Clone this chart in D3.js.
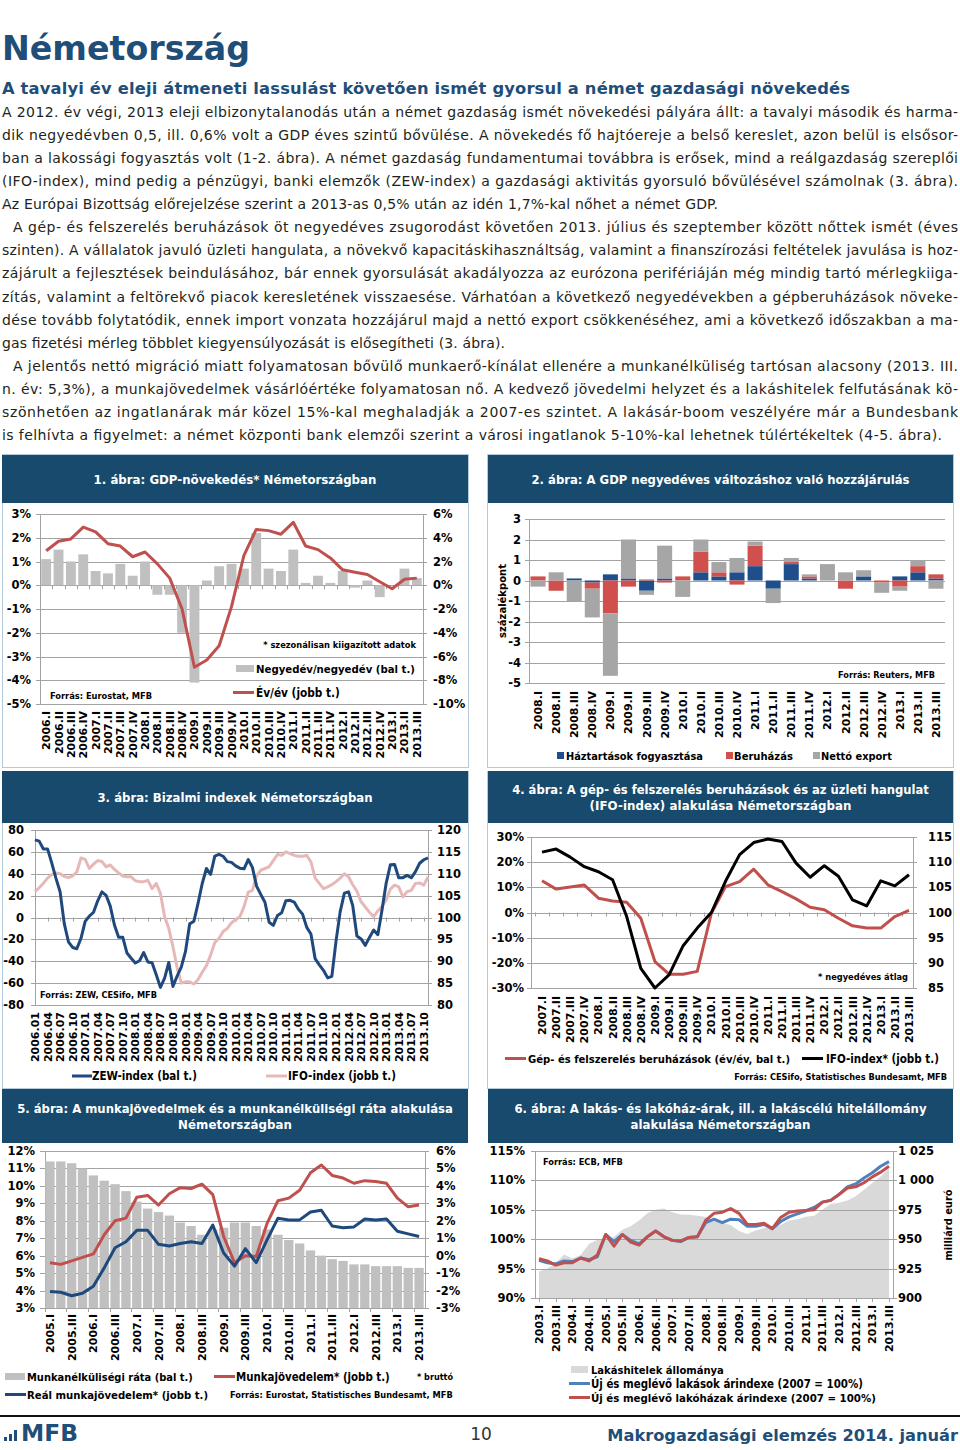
<!DOCTYPE html>
<html><head><meta charset="utf-8">
<script src="https://cdn.jsdelivr.net/npm/d3@7"></script>
<style>body{margin:0;background:#fff}svg{display:block}</style>
</head><body>
<svg id="page" width="960" height="1450"></svg>
<script>
// ================= DATA =================
const bodyLines = [
"A 2012. év végi, 2013 eleji elbizonytalanodás után a német gazdaság ismét növekedési pályára állt: a tavalyi második és harma-",
"dik negyedévben 0,5, ill. 0,6% volt a GDP éves szintű bővülése. A növekedés fő hajtóereje a belső kereslet, azon belül is elsősor-",
"ban a lakossági fogyasztás volt (1-2. ábra). A német gazdaság fundamentumai továbbra is erősek, mind a reálgazdaság szereplői",
"(IFO-index), mind pedig a pénzügyi, banki elemzők (ZEW-index) a gazdasági aktivitás gyorsuló bővülésével számolnak (3. ábra).",
"Az Európai Bizottság előrejelzése szerint a 2013-as 0,5% után az idén 1,7%-kal nőhet a német GDP.",
"A gép- és felszerelés beruházások öt negyedéves zsugorodást követően 2013. július és szeptember között nőttek ismét (éves",
"szinten). A vállalatok javuló üzleti hangulata, a növekvő kapacitáskihasználtság, valamint a finanszírozási feltételek javulása is hoz-",
"zájárult a fejlesztések beindulásához, bár ennek gyorsulását akadályozza az eurózona perifériáján még mindig tartó mérlegkiiga-",
"zítás, valamint a feltörekvő piacok keresletének visszaesése. Várhatóan a következő negyedévekben a gépberuházások növeke-",
"dése tovább folytatódik, ennek import vonzata hozzájárul majd a nettó export csökkenéséhez, ami a következő időszakban a ma-",
"gas fizetési mérleg többlet kiegyensúlyozását is elősegítheti (3. ábra).",
"A jelentős nettó migráció miatt folyamatosan bővülő munkaerő-kínálat ellenére a munkanélküliség tartósan alacsony (2013. III.",
"n. év: 5,3%), a munkajövedelmek vásárlóértéke folyamatosan nő. A kedvező jövedelmi helyzet és a lakáshitelek felfutásának kö-",
"szönhetően az ingatlanárak már közel 15%-kal meghaladják a 2007-es szintet. A lakásár-boom veszélyére már a Bundesbank",
"is felhívta a figyelmet: a német központi bank elemzői szerint a városi ingatlanok 5-10%-kal lehetnek túlértékeltek (4-5. ábra)."
];

// Chart 1
const gdpQuarters = ["2006.I","2006.II","2006.III","2006.IV","2007.I","2007.II","2007.III","2007.IV","2008.I","2008.II","2008.III","2008.IV","2009.I","2009.II","2009.III","2009.IV","2010.I","2010.II","2010.III","2010.IV","2011.I","2011.II","2011.III","2011.IV","2012.I","2012.II","2012.III","2012.IV","2013.I","2013.II","2013.III"];
const gdpQoQ = [1.1,1.5,1.0,1.3,0.6,0.5,0.9,0.4,1.0,-0.4,-0.4,-2.0,-4.1,0.2,0.8,0.9,0.7,2.2,0.7,0.6,1.5,0.1,0.4,0.1,0.6,-0.1,0.2,-0.5,0.0,0.7,0.3];
const gdpYoY = [2.9,3.7,3.9,4.9,4.5,3.5,3.3,2.4,2.8,1.8,0.6,-2.0,-6.9,-6.3,-5.1,-1.8,2.5,4.7,4.6,4.3,5.3,3.3,3.0,2.3,1.3,1.1,0.9,0.3,-0.3,0.5,0.6];

// Chart 2
const contribQuarters = ["2008.I","2008.II","2008.III","2008.IV","2009.I","2009.II","2009.III","2009.IV","2010.I","2010.II","2010.III","2010.IV","2011.I","2011.II","2011.III","2011.IV","2012.I","2012.II","2012.III","2012.IV","2013.I","2013.II","2013.III"];
const contribHouseholds = [0.0,0.0,0.1,-0.1,0.3,0.1,-0.5,0.1,0.0,0.4,0.2,0.4,0.7,-0.4,0.8,0.1,0.0,0.0,0.2,0.0,0.2,0.4,0.1];
const contribInvestment = [0.2,-0.5,0.0,-0.3,-1.6,-0.3,0.05,-0.1,0.2,1.0,0.2,-0.2,1.0,0.0,0.1,0.1,0.0,-0.4,0.0,-0.1,-0.3,0.3,0.2];
const contribNetExport = [-0.3,0.4,-1.0,-1.4,-3.05,1.9,-0.2,1.6,-0.8,0.6,0.5,0.7,0.2,-0.7,0.2,0.1,0.8,0.4,0.3,-0.5,-0.2,0.3,-0.4];

// Chart 3 (monthly 2006.01 - 2013.11)
const zewIndex = [71.0,69.8,62.6,62.7,50.0,36.0,23.5,-5.6,-22.2,-27.4,-28.6,-19.0,
 -3.6,1.3,4.8,15.3,23.5,20.3,10.4,-6.9,-18.1,-18.1,-32.5,-37.2,
 -41.6,-39.5,-32.0,-40.7,-41.4,-52.4,-63.9,-55.5,-41.1,-63.0,-53.5,-45.2,
 -31.0,-5.8,-3.5,13.0,31.1,44.8,39.5,56.1,57.7,56.0,51.1,50.4,
 47.2,45.1,44.5,53.0,45.8,28.7,21.2,14.0,-4.3,-7.2,1.8,4.3,
 15.4,15.7,14.1,7.6,3.1,-9.0,-15.1,-37.6,-43.3,-48.3,-55.2,-53.8,
 -21.6,5.4,22.3,23.4,10.8,-16.9,-19.6,-25.5,-18.2,-11.5,-15.7,6.9,
 31.5,48.2,48.5,36.3,36.4,38.5,36.3,42.0,49.6,52.8,54.6];
const ifoIndex = [105.9,106.8,107.8,109.0,109.8,110.2,110.0,109.4,109.1,109.5,110.4,113.6,
 113.3,111.2,112.2,113.0,112.8,111.6,112.0,111.0,110.2,109.5,109.3,109.3,
 108.4,108.2,108.2,108.5,106.6,107.8,105.5,100.2,97.5,93.3,88.5,85.0,
 85.3,85.3,84.8,85.8,87.5,89.0,91.4,94.3,95.2,96.8,97.5,98.8,
 99.5,100.2,102.5,105.8,106.2,109.5,110.8,111.2,111.6,113.0,114.4,114.2,
 115.0,114.6,114.2,114.0,114.0,114.2,112.7,109.0,107.8,106.6,107.0,107.5,
 108.2,109.0,110.0,109.3,107.5,106.0,103.6,102.4,101.2,100.2,101.5,102.5,
 104.0,106.5,107.4,107.0,104.7,105.9,106.2,107.8,107.9,107.4,109.3];
const monthTickLabels = ["2006.01","2006.04","2006.07","2006.10","2007.01","2007.04","2007.07","2007.10","2008.01","2008.04","2008.07","2008.10","2009.01","2009.04","2009.07","2009.10","2010.01","2010.04","2010.07","2010.10","2011.01","2011.04","2011.07","2011.10","2012.01","2012.04","2012.07","2012.10","2013.01","2013.04","2013.07","2013.10"];

// Chart 4
const invQuarters = ["2007.I","2007.II","2007.III","2007.IV","2008.I","2008.II","2008.III","2008.IV","2009.I","2009.II","2009.III","2009.IV","2010.I","2010.II","2010.III","2010.IV","2011.I","2011.II","2011.III","2011.IV","2012.I","2012.II","2012.III","2012.IV","2013.I","2013.II","2013.III"];
const machineryInvestment = [12.6,9.3,10.1,10.9,5.7,4.6,4.1,-2.3,-19.5,-24.5,-24.5,-23.4,-0.3,10.3,12.3,17.2,11.0,8.3,5.4,2.1,1.1,-2.3,-5.3,-6.2,-6.2,-1.6,0.8];
const ifoQuarterly = [112.0,112.6,111.0,109.1,108.1,106.5,99.2,88.9,85.0,87.6,93.4,96.9,100.0,106.2,111.5,113.9,114.6,114.1,109.8,107.0,109.3,107.2,102.5,101.3,106.3,105.3,107.5];

// Chart 5
const labourQuarters = ["2005.I","2005.II","2005.III","2005.IV","2006.I","2006.II","2006.III","2006.IV","2007.I","2007.II","2007.III","2007.IV","2008.I","2008.II","2008.III","2008.IV","2009.I","2009.II","2009.III","2009.IV","2010.I","2010.II","2010.III","2010.IV","2011.I","2011.II","2011.III","2011.IV","2012.I","2012.II","2012.III","2012.IV","2013.I","2013.II","2013.III"];
const unemploymentRate = [11.4,11.4,11.3,11.0,10.6,10.3,10.1,9.7,9.1,8.7,8.5,8.3,7.9,7.7,7.2,7.5,7.6,7.9,7.9,7.7,7.5,7.2,6.9,6.7,6.3,6.0,5.8,5.7,5.5,5.5,5.4,5.4,5.4,5.3,5.3];
const nominalWages = [-0.4,-0.5,-0.3,-0.1,0.1,1.2,2.0,2.15,3.35,3.45,2.9,3.55,3.9,3.85,4.1,3.5,1.1,-0.4,0.0,-0.05,1.85,3.15,3.3,3.75,4.75,5.2,4.6,4.45,4.15,4.3,4.25,4.15,3.3,2.8,2.9];
const realWages = [-2.05,-2.1,-2.3,-2.15,-1.75,-0.7,0.45,0.8,1.45,1.45,0.65,0.55,0.7,0.8,0.7,1.75,0.15,-0.6,0.4,-0.4,0.9,2.15,2.05,2.05,2.5,2.6,1.7,1.6,1.65,2.1,2.05,2.1,1.4,1.25,1.1];

// Chart 6
const houseQuarters = ["2003.I","2003.II","2003.III","2003.IV","2004.I","2004.II","2004.III","2004.IV","2005.I","2005.II","2005.III","2005.IV","2006.I","2006.II","2006.III","2006.IV","2007.I","2007.II","2007.III","2007.IV","2008.I","2008.II","2008.III","2008.IV","2009.I","2009.II","2009.III","2009.IV","2010.I","2010.II","2010.III","2010.IV","2011.I","2011.II","2011.III","2011.IV","2012.I","2012.II","2012.III","2012.IV","2013.I","2013.II","2013.III"];
const mortgageStock = [922.6,925,929.5,937,933.5,936.5,946,949.5,950,952,958,961,966,972,975,976,973,971,970.8,970,968.8,965.7,963.7,962,957,954.5,957.5,959.5,960,962,966,967,969,970,975,980,981,983,986.5,992,997.7,1003.4,1010.4];
const flatPrices = [96.4,96.0,95.8,96.3,96.2,96.8,96.5,97.0,100.8,99.6,100.8,99.8,99.2,100.4,101.4,100.4,99.8,99.6,100.3,100.4,102.8,103.4,102.8,103.4,103.3,102.2,102.2,102.5,101.8,103.0,103.8,104.3,104.8,105.4,106.3,106.6,107.6,108.9,109.4,110.4,111.3,112.4,113.2];
const housePrices = [96.7,96.3,95.6,96.0,96.0,96.8,96.3,97.3,100.8,98.8,100.8,99.5,99.0,100.4,101.4,100.4,99.8,99.7,100.3,100.4,103.2,104.4,104.6,105.2,104.4,102.5,102.5,102.7,101.8,103.7,104.6,104.8,104.9,105.0,106.3,106.6,107.6,108.7,108.9,109.6,110.6,111.4,112.4];
const c6RightTicks = [900,925,950,975,1000,1025];
const c6RightLabels = ["900","925","950","975","1 000","1 025"];

// ================= DRAWING =================
const FONT = "'DejaVu Sans', Verdana, sans-serif";
const CFONT = "'DejaVu Sans Condensed', 'DejaVu Sans', Verdana, sans-serif";
const BLUE_TXT = "#1f4e79";
const BARCOL = "#174a6c";
const GRID = "#a3a3a3";
const RED = "#c0504d";
const NAVY = "#1f497d";
const svg = d3.select("#page");

// text helper: when a target width is given, the font size is fitted so the
// natural text width matches it (no glyph distortion).
function T(p, x, y, s, o = {}) {
  const size = o.size || 11;
  const t = p.append("text").attr("x", x).attr("y", y)
    .attr("font-family", o.font || (o.width ? CFONT : FONT))
    .attr("font-size", size)
    .attr("font-weight", o.weight || "bold")
    .attr("fill", o.color || "#000")
    .attr("text-anchor", o.anchor || "start")
    .text(s);
  if (o.rotate) t.attr("transform", `rotate(${o.rotate},${x},${y})`);
  if (o.width) {
    let nat = t.node().getComputedTextLength();
    if (nat > o.width) {
      t.attr("font-size", (size * o.width / nat).toFixed(2));
    } else if (nat < o.width) {
      const grow = Math.min(o.width / nat, o.maxGrow || 1.12);
      t.attr("font-size", (size * grow).toFixed(2));
      nat = t.node().getComputedTextLength();
      if (nat < o.width - 1) t.attr("textLength", o.width).attr("lengthAdjust", "spacing");
    }
  }
  return t;
}
function L(p, x1, y1, x2, y2, c = GRID, w = 1) {
  return p.append("line").attr("x1", x1).attr("y1", y1).attr("x2", x2).attr("y2", y2)
    .attr("stroke", c).attr("stroke-width", w);
}
const r5 = v => Math.round(v) + 0.5;
function hgrid(g, y, vals, x0, x1) { vals.forEach(v => L(g, x0, r5(y(v)), x1, r5(y(v)))); }
function vaxis(g, x, y0, y1) { L(g, r5(x), y0, r5(x), y1); }
function lineLegend(g, x0, x1, y, col) { L(g, x0, y, x1, y, col, 3); }

function titleBar(x0, x1, y0, y1, lines, widths) {
  svg.append("rect").attr("x", x0).attr("y", y0).attr("width", x1 - x0).attr("height", y1 - y0).attr("fill", BARCOL);
  const cx = (x0 + x1) / 2, cy = (y0 + y1) / 2;
  lines.forEach((s, i) => T(svg, cx, cy + 4.5 + (i - (lines.length - 1) / 2) * 16, s,
    {size: 12.5, color: "#fff", anchor: "middle", width: widths[i], maxGrow: 1.05}));
}
function panelBorder(x0, y0, x1, y1) {
  svg.append("rect").attr("x", x0 + 0.5).attr("y", y0 + 0.5).attr("width", x1 - x0).attr("height", y1 - y0)
    .attr("fill", "none").attr("stroke", "#b3cadb").attr("stroke-width", 1);
}

// ---------- Page header & text ----------
T(svg, 2, 60, "Németország", {font: FONT, size: 36, color: BLUE_TXT, width: 248});
T(svg, 2, 94, "A tavalyi év eleji átmeneti lassulást követően ismét gyorsul a német gazdasági növekedés", {font: FONT, size: 16, color: BLUE_TXT, width: 848, maxGrow: 1.02});
const bodyLayout = [[2,956],[2,956],[2,956],[2,956],[2,716],[13,945],[2,956],[2,956],[2,956],[2,956],[2,503],[13,945],[2,956],[2,956],[2,940]];
bodyLines.forEach((s, i) => {
  T(svg, bodyLayout[i][0], 117 + i * 23.07, s, {font: FONT, size: 14, weight: "normal", color: "#231f20", width: bodyLayout[i][1], maxGrow: 1.0});
});

// ---------- Panels ----------
panelBorder(2, 454, 468, 767);
panelBorder(487, 454, 953, 767);
panelBorder(2, 771, 468, 1088);
panelBorder(487, 771, 953, 1088);
titleBar(2, 468, 455, 503, ["1. ábra: GDP-növekedés* Németországban"], [283]);
titleBar(488, 953, 455, 503, ["2. ábra: A GDP negyedéves változáshoz való hozzájárulás"], [378]);
titleBar(2, 468, 771, 823, ["3. ábra: Bizalmi indexek Németországban"], [275]);
titleBar(488, 953, 771, 823, ["4. ábra: A gép- és felszerelés beruházások és az üzleti hangulat", "(IFO-index) alakulása Németországban"], [417, 262]);
titleBar(2, 468, 1089, 1143, ["5. ábra: A munkajövedelmek és a munkanélküliségi ráta alakulása", "Németországban"], [436, 114]);
titleBar(488, 953, 1089, 1143, ["6. ábra: A lakás- és lakóház-árak, ill. a lakáscélú hitelállomány", "alakulása Németországban"], [412, 180]);

// ---------- Chart 1 ----------
(function () {
  const g = svg.append("g");
  const x = d3.scaleBand().domain(gdpQuarters).range([40, 423]).paddingInner(0.2).paddingOuter(0.1);
  const yL = d3.scaleLinear().domain([-5, 3]).range([704, 514]);
  const yR = d3.scaleLinear().domain([-10, 6]).range([704, 514]);
  hgrid(g, yL, d3.range(-5, 4), 36, 427);
  vaxis(g, 40, 514, 705); vaxis(g, 423, 514, 705);
  g.selectAll("rect.b").data(gdpQoQ).join("rect").attr("class", "b")
    .attr("x", (d, i) => x(gdpQuarters[i])).attr("width", x.bandwidth())
    .attr("y", d => yL(Math.max(0, d))).attr("height", d => Math.abs(yL(d) - yL(0)))
    .attr("fill", "#c0c0c0");
  d3.range(gdpQuarters.length + 1).forEach(i => L(g, r5(40 + i * x.step()), yL(0), r5(40 + i * x.step()), yL(0) + 4));
  g.append("path").datum(gdpYoY).attr("fill", "none").attr("stroke", RED).attr("stroke-width", 3)
    .attr("stroke-linejoin", "round")
    .attr("d", d3.line().x((d, i) => x(gdpQuarters[i]) + x.bandwidth() / 2).y(d => yR(d)));
  d3.range(-5, 4).forEach(v => T(g, 31, yL(v) + 4, v + "%", {anchor: "end", size: 11.5}));
  d3.range(-10, 7, 2).forEach(v => T(g, 433, yR(v) + 4, v + "%", {size: 11.5}));
  gdpQuarters.forEach(q => T(g, x(q) + x.bandwidth() / 2 + 4, 711, q, {rotate: -90, anchor: "end", size: 11}));
  T(g, 416, 648, "* szezonálisan kiigazított adatok", {anchor: "end", size: 10, width: 153});
  g.append("rect").attr("x", 236).attr("y", 665).attr("width", 18).attr("height", 7).attr("fill", "#c0c0c0");
  T(g, 256, 673, "Negyedév/negyedév (bal t.)", {size: 12, width: 159});
  lineLegend(g, 233, 254, 692.5, RED);
  T(g, 256, 697, "Év/év (jobb t.)", {size: 12, width: 84});
  T(g, 50, 699, "Forrás: Eurostat, MFB", {size: 10, width: 102});
})();

// ---------- Chart 2 ----------
(function () {
  const g = svg.append("g");
  const x = d3.scaleBand().domain(contribQuarters).range([529, 945]).paddingInner(0.17).paddingOuter(0.085);
  const y = d3.scaleLinear().domain([-5, 3]).range([683, 519]);
  hgrid(g, y, d3.range(-5, 4), 525, 945);
  vaxis(g, 529, 519, 684);
  const series = [
    {vals: contribHouseholds, col: "#1f4e8c"},
    {vals: contribInvestment, col: "#d0504d"},
    {vals: contribNetExport, col: "#a6a6a6"}
  ];
  contribQuarters.forEach((q, i) => {
    let pos = 0, neg = 0;
    series.forEach(s => {
      const v = s.vals[i];
      if (v === 0) return;
      let a, b;
      if (v > 0) { a = pos; b = pos + v; pos = b; } else { a = neg; b = neg + v; neg = b; }
      g.append("rect").attr("x", x(q)).attr("width", x.bandwidth())
        .attr("y", y(Math.max(a, b))).attr("height", Math.abs(y(a) - y(b))).attr("fill", s.col);
    });
  });
  d3.range(-5, 4).forEach(v => T(g, 521, y(v) + 4, String(v), {anchor: "end", size: 11.5}));
  T(g, 506, 601, "százalékpont", {rotate: -90, anchor: "middle", size: 12, width: 74});
  contribQuarters.forEach(q => T(g, x(q) + x.bandwidth() / 2 + 4, 691, q, {rotate: -90, anchor: "end", size: 11}));
  T(g, 935, 678, "Forrás: Reuters, MFB", {anchor: "end", size: 10, width: 97});
  const ly = 760;
  g.append("rect").attr("x", 557).attr("y", ly - 8).attr("width", 7).attr("height", 7).attr("fill", "#1f4e8c");
  T(g, 566, ly, "Háztartások fogyasztása", {size: 12, width: 137});
  g.append("rect").attr("x", 726).attr("y", ly - 8).attr("width", 7).attr("height", 7).attr("fill", "#d0504d");
  T(g, 734, ly, "Beruházás", {size: 12, width: 59});
  g.append("rect").attr("x", 813).attr("y", ly - 8).attr("width", 7).attr("height", 7).attr("fill", "#a6a6a6");
  T(g, 821, ly, "Nettó export", {size: 12, width: 71});
})();

// ---------- Chart 3 ----------
(function () {
  const g = svg.append("g");
  const idx = d3.range(zewIndex.length);
  const x = d3.scalePoint().domain(idx).range([35, 428]);
  const yL = d3.scaleLinear().domain([-80, 80]).range([1005, 830]);
  const yR = d3.scaleLinear().domain([80, 120]).range([1005, 830]);
  hgrid(g, yL, d3.range(-80, 81, 20), 31, 432);
  vaxis(g, 35, 830, 1006); vaxis(g, 428, 830, 1006);
  monthTickLabels.forEach((lab, k) => L(g, r5(x(k * 3)), yL(0), r5(x(k * 3)), yL(0) + 4));
  g.append("path").datum(ifoIndex).attr("fill", "none").attr("stroke", "#e6b9b8").attr("stroke-width", 3)
    .attr("stroke-linejoin", "round").attr("d", d3.line().x((d, i) => x(i)).y(d => yR(d)));
  g.append("path").datum(zewIndex).attr("fill", "none").attr("stroke", NAVY).attr("stroke-width", 3)
    .attr("stroke-linejoin", "round").attr("d", d3.line().x((d, i) => x(i)).y(d => yL(d)));
  d3.range(-80, 81, 20).forEach(v => T(g, 24, yL(v) + 4, String(v), {anchor: "end", size: 11.5}));
  d3.range(80, 121, 5).forEach(v => T(g, 437, yR(v) + 4, String(v), {size: 11.5}));
  monthTickLabels.forEach((lab, k) => T(g, x(k * 3) + 4, 1012, lab, {rotate: -90, anchor: "end", size: 11}));
  T(g, 40, 998, "Forrás: ZEW, CESifo, MFB", {size: 10, width: 117});
  lineLegend(g, 72, 92, 1076, NAVY);
  T(g, 92, 1080, "ZEW-index (bal t.)", {size: 12, width: 105});
  lineLegend(g, 266, 287, 1076, "#e6b9b8");
  T(g, 288, 1080, "IFO-index (jobb t.)", {size: 12, width: 108});
})();

// ---------- Chart 4 ----------
(function () {
  const g = svg.append("g");
  const x = d3.scalePoint().domain(invQuarters).range([542, 909]);
  const step = x.step();
  const yL = d3.scaleLinear().domain([-30, 30]).range([988, 837]);
  const yR = d3.scaleLinear().domain([85, 115]).range([988, 837]);
  hgrid(g, yL, d3.range(-30, 31, 10), 527, 917);
  vaxis(g, 531, 837, 989); vaxis(g, 913, 837, 989);
  d3.range(invQuarters.length + 1).forEach(i => {
    const xx = r5(542 - step / 2 + i * step);
    if (xx > 531 && xx < 913) L(g, xx, yL(0), xx, yL(0) + 4);
  });
  g.append("path").datum(machineryInvestment).attr("fill", "none").attr("stroke", RED).attr("stroke-width", 3)
    .attr("stroke-linejoin", "round").attr("d", d3.line().x((d, i) => x(invQuarters[i])).y(d => yL(d)));
  g.append("path").datum(ifoQuarterly).attr("fill", "none").attr("stroke", "#000").attr("stroke-width", 3)
    .attr("stroke-linejoin", "round").attr("d", d3.line().x((d, i) => x(invQuarters[i])).y(d => yR(d)));
  d3.range(-30, 31, 10).forEach(v => T(g, 524, yL(v) + 4, v + "%", {anchor: "end", size: 11.5}));
  d3.range(85, 116, 5).forEach(v => T(g, 928, yR(v) + 4, String(v), {size: 11.5}));
  invQuarters.forEach(q => T(g, x(q) + 4, 996, q, {rotate: -90, anchor: "end", size: 11}));
  T(g, 908, 980, "* negyedéves átlag", {anchor: "end", size: 10, width: 90});
  lineLegend(g, 505, 526, 1058.5, RED);
  T(g, 528, 1063, "Gép- és felszerelés beruházások (év/év, bal t.)", {size: 12, width: 262});
  lineLegend(g, 802, 823, 1058.5, "#000");
  T(g, 826, 1063, "IFO-index* (jobb t.)", {size: 12, width: 113});
  T(g, 947, 1080, "Forrás: CESifo, Statistisches Bundesamt, MFB", {anchor: "end", size: 10, width: 213});
})();

// ---------- Chart 5 ----------
(function () {
  const g = svg.append("g");
  const x = d3.scaleBand().domain(labourQuarters).range([44.5, 424.5]).paddingInner(0.14).paddingOuter(0.07);
  const yL = d3.scaleLinear().domain([3, 12]).range([1308, 1151]);
  const yR = d3.scaleLinear().domain([-3, 6]).range([1308, 1151]);
  hgrid(g, yL, d3.range(3, 13), 40, 429);
  vaxis(g, 44.5, 1151, 1309); vaxis(g, 424.5, 1151, 1309);
  g.selectAll("rect.b").data(unemploymentRate).join("rect").attr("class", "b")
    .attr("x", (d, i) => x(labourQuarters[i])).attr("width", x.bandwidth())
    .attr("y", d => yL(d)).attr("height", d => yL(3) - yL(d)).attr("fill", "#c0c0c0");
  d3.range(0, labourQuarters.length + 1, 2).forEach(i => L(g, r5(44.5 + i * x.step()), 1308, r5(44.5 + i * x.step()), 1312));
  const lineGen = d3.line().x((d, i) => x(labourQuarters[i]) + x.bandwidth() / 2).y(d => yR(d));
  g.append("path").datum(nominalWages).attr("fill", "none").attr("stroke", RED).attr("stroke-width", 3)
    .attr("stroke-linejoin", "round").attr("d", lineGen);
  g.append("path").datum(realWages).attr("fill", "none").attr("stroke", NAVY).attr("stroke-width", 3)
    .attr("stroke-linejoin", "round").attr("d", lineGen);
  d3.range(3, 13).forEach(v => T(g, 35, yL(v) + 4, v + "%", {anchor: "end", size: 11.5}));
  d3.range(-3, 7).forEach(v => T(g, 436, yR(v) + 4, v + "%", {size: 11.5}));
  labourQuarters.forEach((q, i) => { if (i % 2 === 0) T(g, x(q) + x.bandwidth() / 2 + 4, 1314, q, {rotate: -90, anchor: "end", size: 11}); });
  g.append("rect").attr("x", 5).attr("y", 1373).attr("width", 20).attr("height", 7).attr("fill", "#c0c0c0");
  T(g, 27, 1381, "Munkanélküliségi ráta (bal t.)", {size: 12, width: 166});
  lineLegend(g, 214, 235, 1376.5, RED);
  T(g, 236, 1381, "Munkajövedelem* (jobb t.)", {size: 12, width: 154});
  T(g, 453, 1380, "* bruttó", {anchor: "end", size: 9.5, width: 36});
  lineLegend(g, 5, 26, 1394.5, NAVY);
  T(g, 27, 1399, "Reál munkajövedelem* (jobb t.)", {size: 12, width: 181});
  T(g, 230, 1398, "Forrás: Eurostat, Statistisches Bundesamt, MFB", {size: 9.5, width: 223});
})();

// ---------- Chart 6 ----------
(function () {
  const g = svg.append("g");
  const x = d3.scalePoint().domain(houseQuarters).range([539, 889]);
  const yL = d3.scaleLinear().domain([90, 115]).range([1298, 1151]);
  const yR = d3.scaleLinear().domain([900, 1025]).range([1298, 1151]);
  g.append("path").datum(mortgageStock).attr("fill", "#d9d9d9")
    .attr("d", d3.area().x((d, i) => x(houseQuarters[i])).y0(yR(900)).y1(d => yR(d)));
  hgrid(g, yL, d3.range(90, 116, 5), 531, 897);
  vaxis(g, 535, 1151, 1299); vaxis(g, 893, 1151, 1299);
  d3.range(0, houseQuarters.length, 2).forEach(i => L(g, r5(x(houseQuarters[i])), 1298, r5(x(houseQuarters[i])), 1302));
  const lg = d3.line().x((d, i) => x(houseQuarters[i])).y(d => yL(d));
  g.append("path").datum(flatPrices).attr("fill", "none").attr("stroke", "#4f81bd").attr("stroke-width", 3)
    .attr("stroke-linejoin", "round").attr("d", lg);
  g.append("path").datum(housePrices).attr("fill", "none").attr("stroke", RED).attr("stroke-width", 3)
    .attr("stroke-linejoin", "round").attr("d", lg);
  d3.range(90, 116, 5).forEach(v => T(g, 525, yL(v) + 4, v + "%", {anchor: "end", size: 11.5}));
  c6RightTicks.forEach((v, i) => T(g, 898, yR(v) + 4, c6RightLabels[i], {size: 11.5}));
  T(g, 952, 1225, "milliárd euró", {rotate: -90, anchor: "middle", size: 12, width: 71});
  houseQuarters.forEach((q, i) => { if (i % 2 === 0) T(g, x(q) + 4, 1305, q, {rotate: -90, anchor: "end", size: 11}); });
  T(g, 543, 1165, "Forrás: ECB, MFB", {size: 10, width: 80});
  g.append("rect").attr("x", 571).attr("y", 1366).attr("width", 17).attr("height", 7).attr("fill", "#d9d9d9");
  T(g, 591, 1374, "Lakáshitelek állománya", {size: 12, width: 133});
  lineLegend(g, 569, 590, 1383.5, "#4f81bd");
  T(g, 591, 1388, "Új és meglévő lakások árindexe (2007 = 100%)", {size: 12, width: 272});
  lineLegend(g, 569, 590, 1397.5, RED);
  T(g, 591, 1402, "Új és meglévő lakóházak árindexe (2007 = 100%)", {size: 12, width: 285});
})();

// ---------- Footer ----------
L(svg, 0, 1416, 960, 1416, "#111", 2);
[[4, 4], [9, 7], [14, 11]].forEach(([bx, h]) => svg.append("rect").attr("x", bx).attr("y", 1441 - h).attr("width", 3).attr("height", h).attr("fill", BLUE_TXT));
T(svg, 21, 1441, "MFB", {font: FONT, size: 22, color: BLUE_TXT, width: 57});
T(svg, 481, 1440, "10", {anchor: "middle", size: 17, weight: "normal", color: "#333"});
T(svg, 958, 1441, "Makrogazdasági elemzés 2014. január", {font: FONT, anchor: "end", size: 18, color: BLUE_TXT, width: 351, maxGrow: 1.02});
</script>
</body></html>
